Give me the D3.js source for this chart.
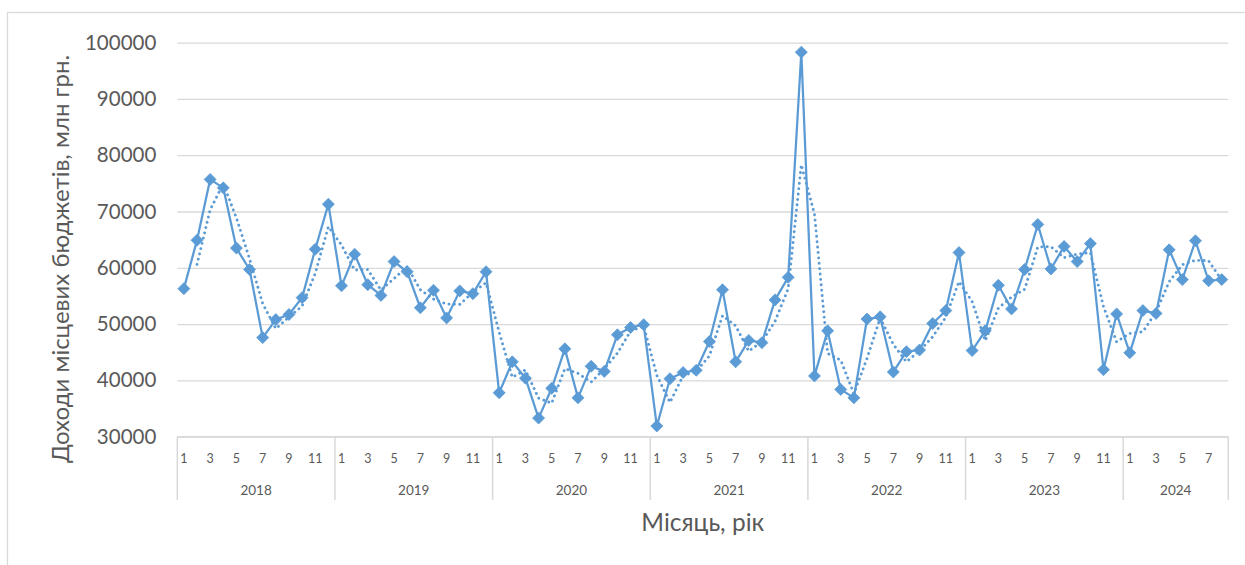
<!DOCTYPE html>
<html>
<head>
<meta charset="utf-8">
<script src="https://cdn.jsdelivr.net/npm/d3@7"></script>
<style>
  html, body { margin: 0; padding: 0; background: #fff; }
  svg { display: block; }
  text { font-family: Lato, "Open Sans", sans-serif; fill: #595959; }
</style>
</head>
<body>
<svg id="chart" width="1245" height="565"></svg>
<script>
// ---- data ----
const years = ["2018", "2019", "2020", "2021", "2022", "2023", "2024"];
const monthsPerYear = [12, 12, 12, 12, 12, 12, 8];
const values2018 = [56300, 64900, 75700, 74200, 63500, 59700, 47600, 50800, 51700, 54700, 63300, 71300];
const values2019 = [56800, 62400, 57000, 55100, 61100, 59300, 52900, 56000, 51100, 55900, 55400, 59300];
const values2020 = [37800, 43300, 40400, 33300, 38600, 45600, 36900, 42500, 41600, 48100, 49400, 49900];
const values2021 = [31900, 40300, 41400, 41800, 46900, 56100, 43300, 47100, 46700, 54300, 58300, 98300];
const values2022 = [40800, 48800, 38400, 36900, 50900, 51300, 41500, 45100, 45400, 50100, 52400, 62700];
const values2023 = [45300, 48800, 56900, 52700, 59700, 67700, 59800, 63800, 61100, 64300, 41900, 51800];
const values2024 = [44900, 52400, 51900, 63200, 57900, 64800, 57700, 57900];
const yTicks = [30000, 40000, 50000, 60000, 70000, 80000, 90000, 100000];
const yTitle = "Доходи місцевих бюджетів, млн грн.";
const xTitle = "Місяць, рік";

const allValues = [values2018, values2019, values2020, values2021, values2022, values2023, values2024];
const data = [];
years.forEach((yr, yi) => {
  allValues[yi].forEach((v, mi) => data.push({ key: yr + "-" + (mi + 1), year: yr, month: mi + 1, value: v }));
});
// 2-period moving average trendline
const ma = [];
for (let i = 1; i < data.length; i++) ma.push({ key: data[i].key, value: (data[i].value + data[i - 1].value) / 2 });

// ---- layout ----
const svg = d3.select("#chart");
const pLeft = 177.3, pRight = 1228.3, pTop = 42.6, pBottom = 436.7;
const color = "#5B9BD5";
const grid = "#d9d9d9";

// chart border
svg.append("rect").attr("x", 7.5).attr("y", 12.5).attr("width", 1300).attr("height", 600)
  .attr("fill", "none").attr("stroke", grid).attr("stroke-width", 1.3);

const x = d3.scaleBand().domain(data.map(d => d.key)).range([pLeft, pRight]).paddingInner(0).paddingOuter(0);
const y = d3.scaleLinear().domain([30000, 100000]).range([pBottom, pTop]);

// gridlines + y labels
const yAxis = d3.axisLeft(y).tickValues(yTicks).tickSize(-(pRight - pLeft)).tickPadding(21).tickFormat(d3.format("d"));
const gy = svg.append("g").attr("transform", `translate(${pLeft},0)`).call(yAxis);
gy.select(".domain").remove();
gy.selectAll(".tick line").attr("stroke", grid).attr("stroke-width", 1.3);
gy.selectAll(".tick text").attr("font-size", 20.5).attr("fill", "#595959").style("font-family", "Lato, sans-serif");

// category axis (months)
const monthAxis = d3.axisBottom(x).tickSize(0).tickPadding(0)
  .tickFormat(k => { const m = +k.split("-")[1]; return m % 2 === 1 ? String(m) : ""; });
const gx = svg.append("g").attr("transform", `translate(0,${pBottom})`).call(monthAxis);
gx.select(".domain").remove();
gx.selectAll(".tick text").attr("font-size", 12.5).attr("dy", 0).attr("y", 26).attr("fill", "#595959");

// year groups
let start = 0;
const yearGroups = years.map((yr, i) => {
  const g = { year: yr, first: data[start].key, last: data[start + monthsPerYear[i] - 1].key };
  start += monthsPerYear[i];
  return g;
});
const boundaries = yearGroups.map(g => x(g.first)).concat([x(yearGroups[yearGroups.length - 1].last) + x.bandwidth()]);
svg.append("g").selectAll("line").data(boundaries).join("line")
  .attr("x1", d => d).attr("x2", d => d).attr("y1", pBottom).attr("y2", 500)
  .attr("stroke", grid).attr("stroke-width", 1.5);
svg.append("line").attr("x1", pLeft).attr("x2", pRight).attr("y1", pBottom).attr("y2", pBottom)
  .attr("stroke", grid).attr("stroke-width", 1.5);
svg.append("g").selectAll("text").data(yearGroups).join("text")
  .attr("x", g => (x(g.first) + x(g.last) + x.bandwidth()) / 2)
  .attr("y", 495).attr("text-anchor", "middle").attr("font-size", 13.5).text(g => g.year);

// titles
svg.append("text").attr("x", (pLeft + pRight) / 2).attr("y", 531).attr("text-anchor", "middle")
  .attr("font-size", 24.5).text(xTitle);
svg.append("text").attr("transform", `translate(69,259) rotate(-90)`).attr("text-anchor", "middle")
  .attr("font-size", 24).text(yTitle);

const cx = k => x(k) + x.bandwidth() / 2;

// moving average (dotted)
svg.append("path").datum(ma)
  .attr("d", d3.line().x(d => cx(d.key)).y(d => y(d.value)))
  .attr("fill", "none").attr("stroke", color).attr("stroke-width", 2.9)
  .attr("stroke-linecap", "round").attr("stroke-dasharray", "0.01 5.4");

// main line
svg.append("path").datum(data)
  .attr("d", d3.line().x(d => cx(d.key)).y(d => y(d.value)))
  .attr("fill", "none").attr("stroke", color).attr("stroke-width", 2.25).attr("stroke-linejoin", "round");

// markers
svg.append("g").selectAll("path").data(data).join("path")
  .attr("transform", d => `translate(${cx(d.key)},${y(d.value)}) rotate(45)`)
  .attr("d", d3.symbol().type(d3.symbolSquare).size(72))
  .attr("fill", color).attr("stroke", color).attr("stroke-width", 0.75);
</script>
</body>
</html>
